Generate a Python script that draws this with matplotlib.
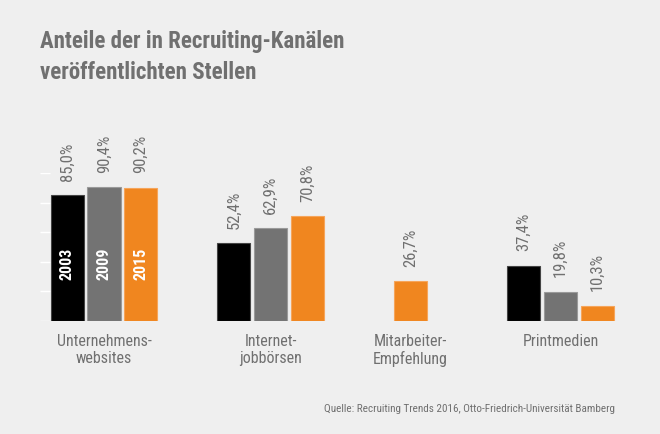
import matplotlib
matplotlib.use("Agg")
import matplotlib.pyplot as plt
from matplotlib import font_manager as fm

# Data
categories = ["Unternehmens-\nwebsites", "Internet-\njobbörsen", "Mitarbeiter-\nEmpfehlung", "Printmedien"]
years = ["2003", "2009", "2015"]
values_2003 = [85.0, 52.4, None, 37.4]
values_2009 = [90.4, 62.9, None, 19.8]
values_2015 = [90.2, 70.8, 26.7, 10.3]
grid_vals = [0, 20, 40, 60, 80, 100]
title_lines = ["Anteile der in Recruiting-Kanälen", "veröffentlichten Stellen"]
source = "Quelle: Recruiting Trends 2016, Otto-Friedrich-Universität Bamberg"

# pick a condensed sans if there is one
names = set(f.name for f in fm.fontManager.ttflist)
FONT = "Liberation Sans"
for cand in ["Roboto Condensed", "Archivo Narrow", "Liberation Sans Narrow", "Barlow Condensed"]:
    if cand in names:
        FONT = cand
        break

BG = "#efefef"
GRAY_TXT = "#707070"
colors = ["#000000", "#737373", "#f0861f"]
edges = ["#444444", "#9a9a9a", "#f6a55a"]

# layout (pixel based x axis)
group_x = [104, 270.5, 374, 560.5]
offsets = [-36.7, 0, 36.7]
bar_w = 33.3

fig = plt.figure(figsize=(6.6, 4.35), dpi=100, facecolor=BG)
ax = fig.add_axes([0, (435 - 322) / 435, 1, 148 / 435])
ax.set_facecolor(BG)
ax.set_xlim(0, 660)
ax.set_ylim(0, 100)
ax.axis("off")

ax.hlines(grid_vals, 40, 50, color="white", lw=1, zorder=1)

series = [values_2003, values_2009, values_2015]
for si, vals in enumerate(series):
    for gi, v in enumerate(vals):
        if v is None:
            continue
        x = group_x[gi] + offsets[si]
        ax.bar(x, v, width=bar_w, color=colors[si], edgecolor=edges[si],
               linewidth=0.8, zorder=2)
        ax.annotate(f"{v:.1f}%".replace(".", ","), (x, v), xytext=(0, 11),
                    textcoords="offset points", rotation=90, ha="center",
                    va="bottom", color=GRAY_TXT, fontsize=12, family=FONT)
        if gi == 0:
            ax.text(x, 39.5, years[si], rotation=90, ha="center", va="center",
                    color="white", fontsize=11.5, fontweight="bold", family=FONT,
                    zorder=3)

for gi, cat in enumerate(categories):
    ax.annotate(cat, (group_x[gi] + (36.5 if gi == 2 else 0), 0), xytext=(0, -9),
                textcoords="offset points", ha="center", va="top",
                color=GRAY_TXT, fontsize=11.5, family=FONT, linespacing=1.15)

for i, line in enumerate(title_lines):
    fig.text(40 / 660, 1 - (48 + 31 * i) / 435, line, ha="left", va="baseline",
             color=GRAY_TXT, fontsize=16.5, fontweight="bold", family=FONT)
fig.text(615 / 660, 1 - 412 / 435, source, ha="right", va="baseline",
         color=GRAY_TXT, fontsize=8, family=FONT)

fig.savefig("out.png", dpi=100, facecolor=BG)
